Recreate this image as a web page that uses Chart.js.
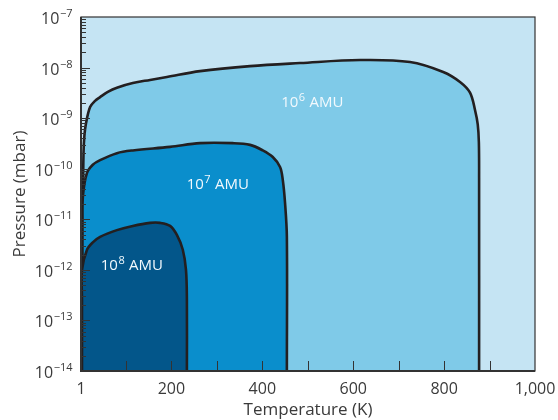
<!DOCTYPE html>
<html>
<head>
<meta charset="utf-8">
<script src="https://cdn.jsdelivr.net/npm/chart.js@4.4.1/dist/chart.umd.min.js"></script>
<style>
  html, body { margin: 0; padding: 0; background: #fff; }
  #wrap { width: 558px; height: 420px; }
</style>
</head>
<body>
<div id="wrap"><canvas id="c" width="558" height="420"></canvas></div>
<script>
// boundaries of each mass region, temperature (K) and pressure (mbar)
var temp6 = [5, 5, 5.5, 6.5, 8.5, 12, 21, 32, 43, 60, 80, 115, 153, 190, 263, 373, 483, 615, 725, 798, 835, 857, 868, 874, 876.5, 877, 877];
var pres6 = [1e-14, 2.5e-13, 2.4e-11, 2e-10, 4.5e-10, 7.9e-10, 1.66e-9, 2.2e-9, 2.6e-9, 3.3e-9, 4.0e-9, 4.95e-9, 5.7e-9, 6.5e-9, 8.5e-9, 1.07e-8, 1.23e-8, 1.41e-8, 1.29e-8, 8.2e-9, 5.2e-9, 3.2e-9, 1.45e-9, 7.5e-10, 3.3e-10, 6e-11, 1e-14];

var temp7 = [4.5, 4.3, 4.3, 5.4, 14, 27, 43, 80, 115, 197, 263, 335, 373, 401, 423, 439, 445, 450, 454, 454];
var pres7 = [1e-14, 6.3e-13, 9.8e-12, 3.0e-11, 8.2e-11, 1.2e-10, 1.48e-10, 2.03e-10, 2.3e-10, 2.7e-10, 3.2e-10, 3.2e-10, 2.96e-10, 2.3e-10, 1.7e-10, 1.08e-10, 6.0e-11, 2.1e-11, 4.5e-12, 1e-14];

var temp8 = [3.2, 3.2, 3.2, 14, 27, 43, 80, 115, 153, 175, 197, 212, 225, 232, 234, 234];
var pres8 = [1e-14, 2.5e-13, 1e-12, 2.47e-12, 3.5e-12, 4.5e-12, 6.1e-12, 7.4e-12, 8.5e-12, 8.5e-12, 7.4e-12, 4.9e-12, 2.5e-12, 1e-12, 2.5e-13, 1e-14];

var xTicks = [1, 200, 400, 600, 800, 1000];
var yDecades = [-14, -13, -12, -11, -10, -9, -8, -7];

var regionNames = ["6", "7", "8"];
var regionLabelT = [510, 302, 113];
var regionLabelP = [2.2e-9, 5.2e-11, 1.3e-12];

function pts(t, p) {
  var a = [];
  for (var i = 0; i < t.length; i++) a.push({x: t[i], y: p[i]});
  return a;
}

var lineCol = "#231f20";
var textCol = "#3a3a3a";
var FONT = "'Open Sans', Lato, sans-serif";
Chart.defaults.font.family = FONT;
Chart.defaults.color = textCol;

// "10" with a raised exponent, drawn right-aligned or centred
function powerText(ctx, base, exp, tail, x, y, bigPx, smallPx, rise, align) {
  var big = bigPx + "px " + FONT, small = smallPx + "px " + FONT;
  ctx.font = big;
  var w1 = ctx.measureText(base).width;
  var w3 = tail ? ctx.measureText(tail).width : 0;
  ctx.font = small;
  var w2 = ctx.measureText(exp).width + 1;
  var total = w1 + w2 + w3;
  var x0 = align === "right" ? x - total : x - total / 2;
  ctx.textAlign = "left";
  ctx.textBaseline = "alphabetic";
  ctx.font = big;
  ctx.fillText(base, x0, y);
  ctx.font = small;
  ctx.fillText(exp, x0 + w1 + 0.5, y - rise);
  if (tail) {
    ctx.font = big;
    ctx.fillText(tail, x0 + w1 + w2, y);
  }
}

var bgPlugin = {
  id: "bg",
  beforeDatasetsDraw: function(chart) {
    var a = chart.chartArea, ctx = chart.ctx;
    ctx.save();
    ctx.fillStyle = "#c5e4f3";
    ctx.fillRect(a.left, a.top, a.right - a.left, a.bottom - a.top);
    ctx.restore();
  }
};

var framePlugin = {
  id: "frame",
  afterDatasetsDraw: function(chart) {
    var a = chart.chartArea, ctx = chart.ctx;
    var xs = chart.scales.x, ys = chart.scales.y;
    ctx.save();
    ctx.strokeStyle = "#333";
    ctx.lineWidth = 1;
    // x ticks every 100 K, pointing inward
    for (var v = 100; v < 1000; v += 100) {
      var px = Math.round(xs.getPixelForValue(v)) + 0.5;
      ctx.beginPath();
      ctx.moveTo(px, a.bottom);
      ctx.lineTo(px, a.bottom - 10);
      ctx.stroke();
    }
    // y ticks, decades long, minors short
    for (var e = -14; e < -7; e++) {
      for (var m = 1; m < 10; m++) {
        var py = Math.round(ys.getPixelForValue(m * Math.pow(10, e))) + 0.5;
        ctx.beginPath();
        ctx.moveTo(a.left, py);
        ctx.lineTo(a.left + (m === 1 ? 9 : 5), py);
        ctx.stroke();
      }
    }
    ctx.lineWidth = 1.2;
    ctx.strokeRect(a.left, a.top, a.right - a.left, a.bottom - a.top);
    ctx.lineWidth = 2;
    ctx.beginPath();
    ctx.moveTo(a.left, a.top);
    ctx.lineTo(a.left, a.bottom);
    ctx.lineTo(a.right, a.bottom);
    ctx.stroke();

    // y tick labels
    ctx.fillStyle = textCol;
    for (var k = 0; k < yDecades.length; k++) {
      var ty = ys.getPixelForValue(Math.pow(10, yDecades[k]));
      powerText(ctx, "10", "\u2212" + Math.abs(yDecades[k]), "", a.left - 8, ty + 7, 16, 11, 7, "right");
    }

    // region labels
    ctx.fillStyle = "#f2f9fd";
    for (var i = 0; i < regionNames.length; i++) {
      var cx = xs.getPixelForValue(regionLabelT[i]);
      var cy = ys.getPixelForValue(regionLabelP[i]) + 6;
      powerText(ctx, "10", regionNames[i], " AMU", cx, cy, 15, 11, 6, "center");
    }
    ctx.restore();
  }
};

function region(t, p, color) {
  return {
    data: pts(t, p),
    backgroundColor: color,
    borderColor: lineCol,
    borderWidth: 2.6,
    pointRadius: 0,
    tension: 0.35,
    fill: "start"
  };
}

new Chart(document.getElementById("c").getContext("2d"), {
  type: "line",
  data: {
    datasets: [
      region(temp8, pres8, "#03568a"),
      region(temp7, pres7, "#0a8ecc"),
      region(temp6, pres6, "#7fcae8")
    ]
  },
  options: {
    responsive: false,
    animation: false,
    plugins: { legend: { display: false }, tooltip: { enabled: false } },
    layout: { padding: { top: 17, right: 23, left: 0, bottom: 0 } },
    scales: {
      x: {
        type: "linear",
        min: 1,
        max: 1000,
        grid: { display: false },
        border: { display: false },
        afterBuildTicks: function(s) { s.ticks = xTicks.map(function(v) { return {value: v}; }); },
        afterFit: function(s) { s.height = 49; },
        ticks: {
          padding: 1,
          maxRotation: 0,
          font: { size: 16 },
          color: textCol,
          callback: function(v) { return v.toLocaleString("en-US"); }
        },
        title: { display: true, text: "Temperature (K)", font: { size: 17 }, color: textCol, padding: { top: 0, bottom: 0 } }
      },
      y: {
        type: "logarithmic",
        min: 1e-14,
        max: 1e-7,
        grid: { display: false },
        border: { display: false },
        afterBuildTicks: function(s) { s.ticks = yDecades.map(function(e) { return {value: Math.pow(10, e)}; }); },
        afterFit: function(s) { s.width = 81; },
        ticks: { display: false },
        title: { display: true, text: "Pressure (mbar)", font: { size: 17 }, color: textCol, padding: { top: 10, bottom: 4 } }
      }
    }
  },
  plugins: [bgPlugin, framePlugin]
});
</script>
</body>
</html>
